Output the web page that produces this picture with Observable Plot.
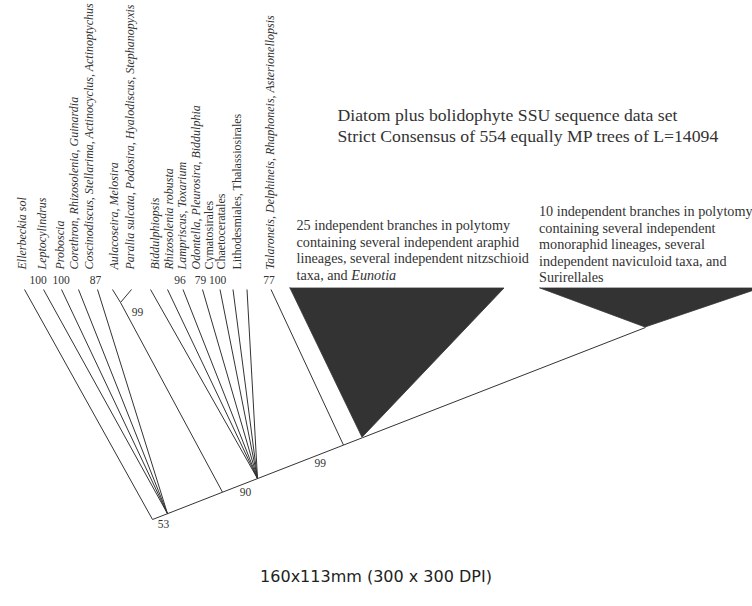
<!DOCTYPE html>
<html><head><meta charset="utf-8">
<script src="https://cdn.jsdelivr.net/npm/d3@7"></script>
<script src="https://cdn.jsdelivr.net/npm/@observablehq/plot@0.6"></script>
<style>
body{margin:0;background:#fff;}
#footer{font-family:"DejaVu Sans",sans-serif;font-size:16px;color:#222;text-align:center;width:752px;padding-top:8px;line-height:18px;}
</style></head><body><div id="chart"></div><div id="footer">160x113mm (300 x 300 DPI)</div>
<script>
// ---- data (layout units = figure units) ----
const tipNames = ["Ellerbeckia sol","Leptocylindrus","Proboscia","Corethron, Rhizosolenia, Guinardia",
  "Coscinodiscus, Stellarima, Actinocyclus, Actinoptychus","Aulacoseira, Melosira",
  "Paralia sulcata, Podosira, Hyalodiscus, Stephanopyxis","Biddulphiopsis","Rhizosolenia robusta",
  "Lampriscus, Toxarium","Odontella, Pleurosira, Biddulphia","Cymatosirales","Chaetoceratales",
  "Lithodesmiales, Thalassiosirales","Talaroneis, Delphineis, Rhaphoneis, Asterionellopsis"];
const tipItalic = [true,true,true,true,true,true,true,true,true,true,true,false,false,false,true];
const tipX = [24,43,61,78,97,112,131,150,167,182.5,202,219.5,232.5,246.5,270.5];
const tipLabelX = [21.5,41.5,60,74,88.5,113.5,129.5,154.5,168.5,182,196,208.5,221,237,270];
const tipParent = ["root","n1","n1","n1","n1","nA","nA","n3","n3","n3","n3","n3","n3","n3","n4"];
const tipSupport = [null,"100","100",null,"87",null,null,null,null,"96","79","100",null,null,"77"];
const supportX = [null,37.5,60.5,null,95,null,null,null,null,179.5,200,217,null,null,268.5];

const nodeIds    = ["root","n1","n2","n3","n4","n5","n6","nA"];
const nodeX      = [152,167,222,257,343,362,645,120];
const nodeY      = [519,513.2,491.7,478.1,444.6,437.2,327,302];
const nodeParent = [null,"root","n1","n2","n3","n4","n5","n2"];
const nodeSupport= [null,"53",null,"90","99",null,null,"99"];
const supportFrac= [null,0.73,null,0.66,0.73,null,null,0.95];

const cladeApex  = ["n5","n6"];
const cladeLeft  = [290,540];
const cladeRight = [504,760];
const cladeText  = [
  "25 independent branches in polytomy\ncontaining several independent araphid\nlineages, several independent nitzschioid\ntaxa, and Eunotia",
  "10 independent branches in polytomy\ncontaining several independent\nmonoraphid lineages, several\nindependent naviculoid taxa, and\nSurirellales"];
const cladeTextX = [296,538.5];
const cladeTextY = [249.2,243.3];

const titleLines = ["Diatom plus bolidophyte SSU sequence data set","Strict Consensus of 554 equally MP trees of L=14094"];
const tipLevel = 289, labelBase = 269, supportLevel = 280, cladeTop = 288;

// ---- build tables ----
const node = new Map(nodeIds.map((id,i)=>[id,{x:nodeX[i],y:nodeY[i]}]));
const edges = [];
tipNames.forEach((n,i)=>{const p=node.get(tipParent[i]); edges.push({x1:tipX[i],y1:tipLevel,x2:p.x,y2:p.y});});
nodeIds.forEach((id,i)=>{ if(nodeParent[i]){const p=node.get(nodeParent[i]); edges.push({x1:nodeX[i],y1:nodeY[i],x2:p.x,y2:p.y});}});
const tips = tipNames.map((name,i)=>({name,italic:tipItalic[i],lx:tipLabelX[i],sx:supportX[i],support:tipSupport[i]}));
const internal = [];
nodeIds.forEach((id,i)=>{ if(nodeSupport[i]){const p=node.get(nodeParent[i]); const f=supportFrac[i];
  internal.push({id,label:nodeSupport[i],x:p.x+(nodeX[i]-p.x)*f,y:p.y+(nodeY[i]-p.y)*f});}});
const tri = [];
cladeApex.forEach((a,i)=>{const n=node.get(a);
  tri.push({c:i,x:cladeLeft[i],y1:cladeTop,y2:cladeTop},{c:i,x:n.x,y1:cladeTop,y2:n.y},{c:i,x:cladeRight[i],y1:cladeTop,y2:cladeTop});});
const ann = cladeText.map((t,i)=>({t,x:cladeTextX[i],y:cladeTextY[i]}));

const W=752,H=560, ink="#333", serif="Liberation Serif, Times New Roman, serif";
const chart = Plot.plot({
  width:W,height:H,margin:0,
  x:{domain:[0,W],range:[0,W],axis:null},
  y:{domain:[0,H],range:[0,H],axis:null},
  style:{background:"#fff",color:ink,fontFamily:serif},
  marks:[
    Plot.areaY(tri,{x:"x",y1:"y1",y2:"y2",z:"c",fill:"#333",stroke:"#333",strokeWidth:0.8}),
    Plot.link(edges,{x1:"x1",y1:"y1",x2:"x2",y2:"y2",stroke:ink,strokeWidth:1}),
    Plot.text(tips.filter(d=>d.italic),{x:"lx",y:()=>labelBase,text:"name",rotate:-90,textAnchor:"start",fontStyle:"italic",fontSize:12,fill:ink,fontFamily:serif}),
    Plot.text(tips.filter(d=>!d.italic),{x:"lx",y:()=>labelBase,text:"name",rotate:-90,textAnchor:"start",fontSize:12,fill:ink,fontFamily:serif}),
    Plot.text(tips.filter(d=>d.support),{x:"sx",y:()=>supportLevel,text:"support",fontSize:11.5,fill:ink,fontFamily:serif}),
    Plot.text(internal.filter(d=>d.id!=="nA"),{x:"x",y:"y",text:"label",dy:9,fontSize:11.5,fill:ink,fontFamily:serif}),
    Plot.text(internal.filter(d=>d.id==="nA"),{x:"x",y:"y",text:"label",dx:12,fontSize:11.5,fill:ink,fontFamily:serif}),
    Plot.text(ann,{x:"x",y:"y",text:"t",textAnchor:"start",lineAnchor:"middle",lineHeight:1.17,fontSize:14.2,fill:ink,fontFamily:serif}),
    Plot.text([titleLines.join("\n")],{x:()=>337,y:()=>124,text:d=>d,textAnchor:"start",lineAnchor:"middle",lineHeight:1.24,fontSize:17.7,fill:ink,fontFamily:serif})
  ]
});
// italicise "Eunotia"
chart.querySelectorAll("tspan").forEach(ts=>{
  if(ts.textContent==="taxa, and Eunotia"){
    ts.textContent="taxa, and ";
    const it=document.createElementNS("http://www.w3.org/2000/svg","tspan");
    it.setAttribute("font-style","italic"); it.textContent="Eunotia"; ts.appendChild(it);
  }
});
document.getElementById("chart").appendChild(chart);
</script></body></html>
